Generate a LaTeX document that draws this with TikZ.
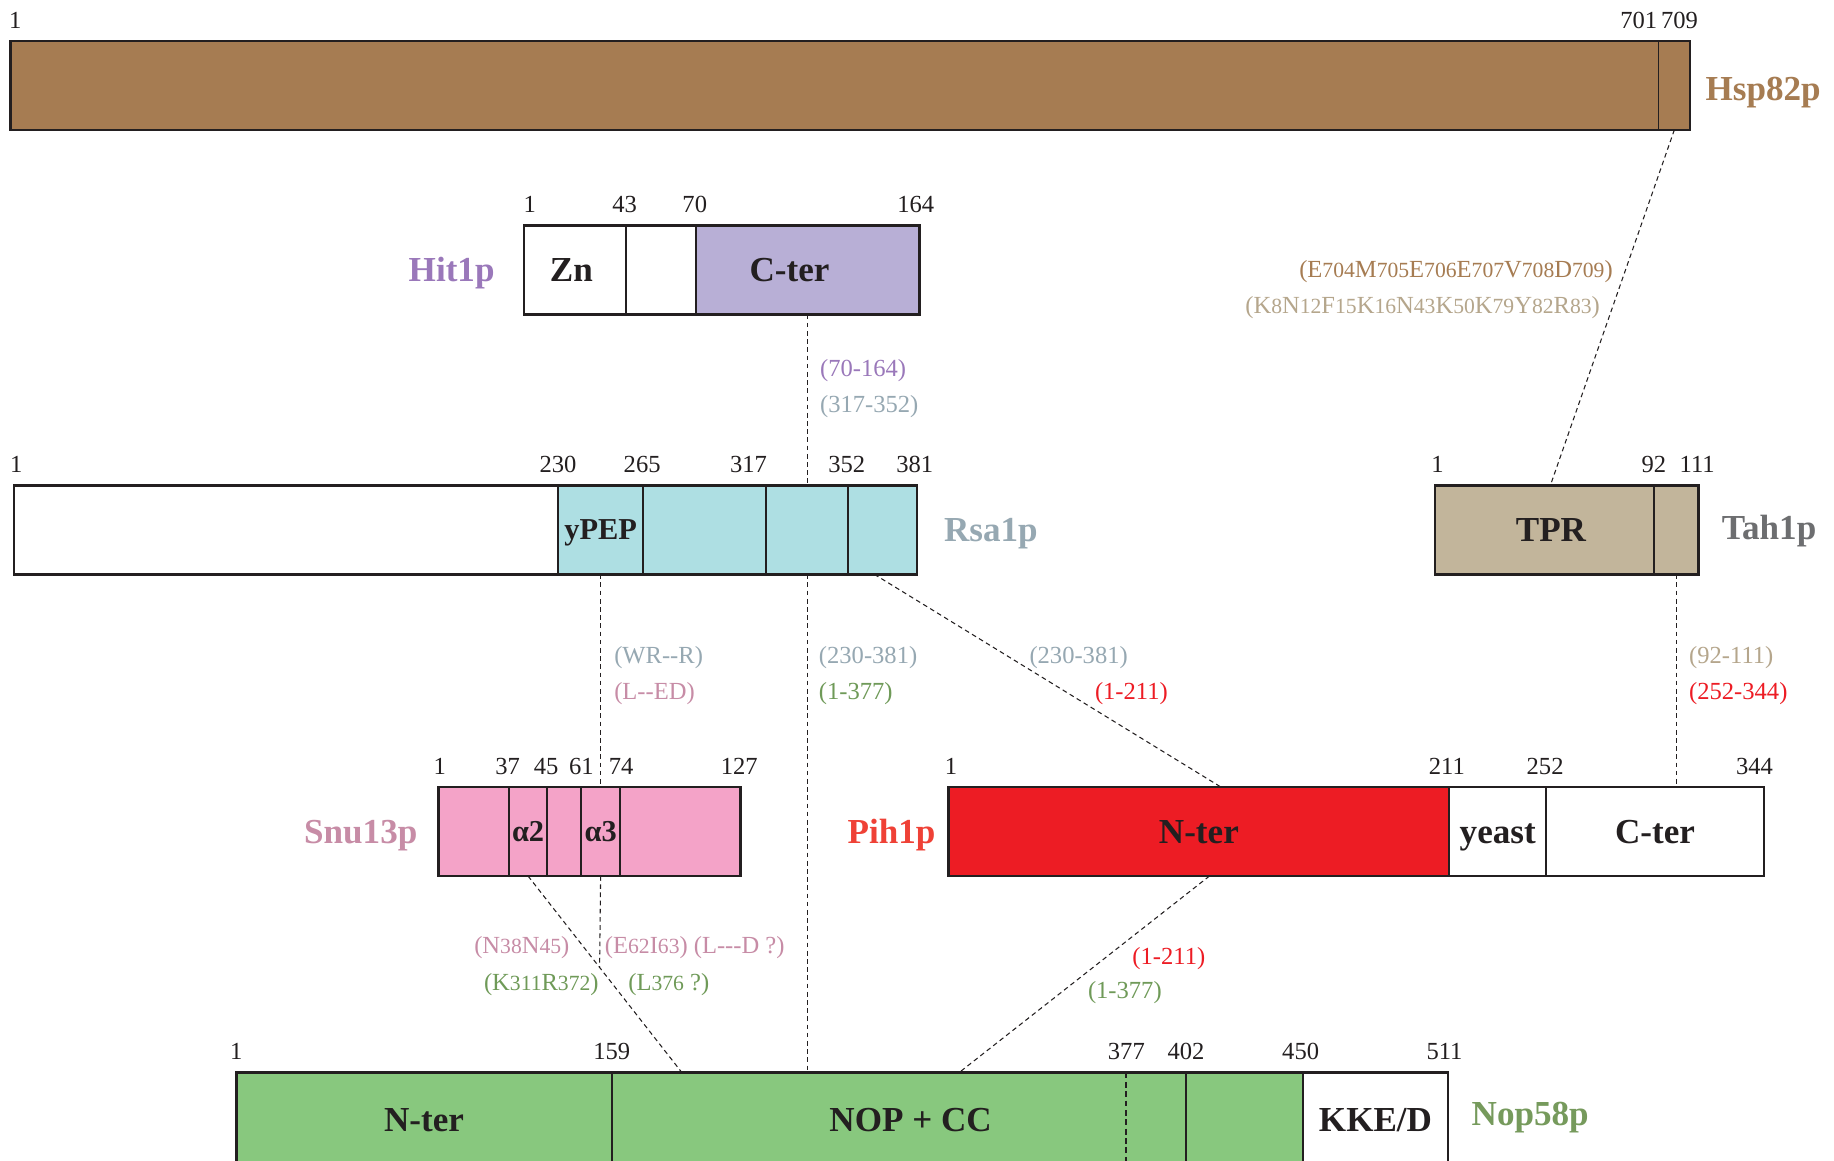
\documentclass[tikz,border=0pt]{standalone}
\usepackage{fontspec}
\setmainfont{Liberation Serif}
\usetikzlibrary{calc}
\definecolor{hspC}{HTML}{A67C52}
\definecolor{hitC}{HTML}{B8AFD6}
\definecolor{hitL}{HTML}{9A78BA}
\definecolor{rsaC}{HTML}{AEDFE3}
\definecolor{rsaL}{HTML}{96A8B2}
\definecolor{tahC}{HTML}{C2B59B}
\definecolor{tahL}{HTML}{6D6E70}
\definecolor{snuC}{HTML}{F4A3C8}
\definecolor{snuL}{HTML}{C78CA6}
\definecolor{pihC}{HTML}{ED1C24}
\definecolor{pihL}{HTML}{EF4136}
\definecolor{nopC}{HTML}{88C87E}
\definecolor{nopL}{HTML}{769A5C}
\definecolor{tanL}{HTML}{B5A68C}
\definecolor{redL}{HTML}{ED1C24}
\definecolor{grnL}{HTML}{6F9A58}
\definecolor{txt}{HTML}{231F20}
\newcommand{\sd}[1]{{\fontsize{18.5}{18.5}\selectfont #1}}
\newcommand{\hh}{-\kern0pt}
\newcommand{\cellbox}[6]{\node[cell, fill=#5, minimum width={(#3-#2)*1pt}] (#1) at (#2,#4) {#6};}
\begin{document}
\begin{tikzpicture}[x=1pt,y=-1pt,
  cell/.style={draw=txt, line width=1.7pt, inner sep=0pt, outer sep=0pt, anchor=north west,
    minimum height=76pt, font=\fontsize{30}{30}\selectfont\bfseries, text=txt,
    text height=20pt, text depth=0pt},
  smallcell/.style={font=\fontsize{26}{26}\selectfont\bfseries, text height=17pt},
  num/.style={anchor=base, font=\fontsize{21}{21}\selectfont, text=txt, inner sep=0pt},
  pname/.style={font=\fontsize{30}{30}\selectfont\bfseries, inner sep=0pt},
  ilab/.style={font=\fontsize{21}{21}\selectfont, inner sep=0pt, anchor=base west},
  ilabr/.style={font=\fontsize{21}{21}\selectfont, inner sep=0pt, anchor=base east},
  link/.style={draw=txt, line width=0.9pt, dash pattern=on 4pt off 3pt},
  outline/.style={draw=txt, line width=2.2pt}]
\useasboundingbox[fill=white] (0,0) rectangle (1568,992);

% ---------- Hsp82p ----------
\cellbox{hsp1}{9}{1418}{35}{hspC}{}
\node[cell, fill=hspC, line width=1.2pt, minimum width=27pt] (hsp2) at (1418,35) {};
\draw[outline] (hsp1.north west) rectangle (hsp2.south east);
\node[num] (hn1) at (13,24) {1};
\node[num, anchor=base east] (hn2) at (1417,24) {701};
\node[num, anchor=base west] (hn3) at (1420,24) {709};
\node[pname, text=hspC, anchor=base west] (hspN) at (1458,86) {Hsp82p};

% ---------- Hit1p ----------
\cellbox{hitA}{448}{535}{193}{white}{Zn\hspace*{6pt}}
\cellbox{hitB}{535}{595}{193}{white}{}
\cellbox{hitC}{595}{786}{193}{hitC}{C-ter\hspace*{31pt}}
\draw[outline] (hitA.north west) rectangle (hitC.south east);
\node[num] (in1) at (453,182) {1};
\node[num] (in2) at (534,182) {43};
\node[num] (in3) at (594,182) {70};
\node[num] (in4) at (783,182) {164};
\node[pname, text=hitL, anchor=base east] (hitN) at (423,241) {Hit1p};

% ---------- Rsa1p ----------
\cellbox{rsa1}{12}{477}{415}{white}{}
\node[cell, smallcell, fill=rsaC, minimum width=73pt] (ypep) at (477,415) {yPEP};
\cellbox{rsa3}{550}{655}{415}{rsaC}{}
\cellbox{rsa4}{655}{725}{415}{rsaC}{}
\cellbox{rsa5}{725}{784}{415}{rsaC}{}
\draw[outline] (rsa1.north west) rectangle (rsa5.south east);
\node[num] (rn1) at (14,404) {1};
\node[num] (rn2) at (477,404) {230};
\node[num] (rn3) at (549,404) {265};
\node[num] (rn4) at (640,404) {317};
\node[num] (rn5) at (724,404) {352};
\node[num] (rn6) at (782,404) {381};
\node[pname, text=rsaL, anchor=base west] (rsaN) at (807,463) {Rsa1p};

% ---------- Tah1p ----------
\cellbox{tpr}{1227}{1414}{415}{tahC}{\hspace*{11pt}TPR}
\cellbox{tah2}{1414}{1452}{415}{tahC}{}
\draw[outline] (tpr.north west) rectangle (tah2.south east);
\node[num] (tn1) at (1229,404) {1};
\node[num] (tn2) at (1414,404) {92};
\node[num] (tn3) at (1451,404) {111};
\node[pname, text=tahL, anchor=base west] (tahN) at (1472,461) {Tah1p};

% ---------- Snu13p ----------
\cellbox{snu1}{375}{435}{673}{snuC}{}
\node[cell, smallcell, fill=snuC, minimum width=33pt] (a2) at (435,673) {α2};
\cellbox{snu3}{468}{497}{673}{snuC}{}
\node[cell, smallcell, fill=snuC, minimum width=33pt] (a3) at (497,673) {α3};
\cellbox{snu5}{530}{633}{673}{snuC}{}
\draw[outline] (snu1.north west) rectangle (snu5.south east);
\node[num] (sn1) at (376,662) {1};
\node[num] (sn2) at (434,662) {37};
\node[num] (sn3) at (467,662) {45};
\node[num] (sn4) at (497,662) {61};
\node[num] (sn5) at (531,662) {74};
\node[num] (sn6) at (632,662) {127};
\node[pname, text=snuL, anchor=base east] (snuN) at (357,721) {Snu13p};

% ---------- Pih1p ----------
\cellbox{pihN}{811}{1239}{673}{pihC}{N-ter}
\cellbox{pihY}{1239}{1322}{673}{white}{yeast}
\cellbox{pihC}{1322}{1508}{673}{white}{C-ter}
\draw[outline] (pihN.north west) rectangle (pihC.south east);
\node[num] (pn1) at (813,662) {1};
\node[num] (pn2) at (1237,662) {211};
\node[num] (pn3) at (1321,662) {252};
\node[num] (pn4) at (1500,662) {344};
\node[pname, text=pihL, anchor=base east] (pihName) at (800,721) {Pih1p};

% ---------- Nop58p ----------
\node[cell, fill=nopC, minimum width=321pt, minimum height=80pt] (nopA) at (202,917) {N-ter};
\node[cell, fill=nopC, minimum width=491pt, minimum height=80pt] (nopB) at (523,917) {\hspace*{20pt}NOP + CC};
\node[cell, fill=nopC, minimum width=100pt, minimum height=80pt] (nopC) at (1014,917) {};
\node[cell, fill=white, minimum width=124pt, minimum height=80pt] (nopD) at (1114,917) {KKE/D};
\draw[outline] (nopA.north west) rectangle (nopD.south east);
\coordinate (d377) at ($(nopB.north west)+(440,0)$);
\draw[txt, line width=1.7pt, dash pattern=on 5pt off 3pt] (d377) -- ++(0,80);
\node[num] (nn1) at (202,906) {1};
\node[num] (nn2) at (523,906) {159};
\node[num] (nn3) at (963,906) {377};
\node[num] (nn4) at (1014,906) {402};
\node[num] (nn5) at (1112,906) {450};
\node[num] (nn6) at (1235,906) {511};
\node[pname, text=nopL, anchor=base west] (nopName) at (1258,962) {Nop58p};

% ---------- connectors ----------
\draw[link] (hsp2.south) -- ([xshift=5pt]tpr.north);
\draw[link] (hitC.south) -- (hitC.south |- rsa4.north);
\draw[link] (rsa4.south) -- (rsa4.south |- nopB.north);
\draw[link] (ypep.south) -- (ypep.south |- a3.north);
\draw[link] ([xshift=-7pt]rsa5.south) -- ([xshift=19pt]pihN.north);
\draw[link] (tah2.south) -- (tah2.south |- pihC.north);
\coordinate (j1) at ($(nopB.north west)+(60,0)$);
\coordinate (j2) at ($(nopB.north west)+(297,0)$);
\draw[link] (a2.south) -- (j1);
\coordinate (meet) at ($(a2.south)!0.465!(j1)$);
\draw[link] (a3.south) -- (meet);
\draw[link] ([xshift=9pt]pihN.south) -- (j2);

% ---------- interaction labels ----------
\node[ilab, text=hitL] (l1) at (701,322) {(70-164)};
\node[ilab, text=rsaL] (l2) at (701,353) {(317-352)};
\node[ilabr, text=hspC] (l3) at (1379,237) {(E\sd{704}M\sd{705}E\sd{706}E\sd{707}V\sd{708}D\sd{709})};
\node[ilabr, text=tanL] (l4) at (1368,268) {(K\sd{8}N\sd{12}F\sd{15}K\sd{16}N\sd{43}K\sd{50}K\sd{79}Y\sd{82}R\sd{83})};
\node[ilab, text=rsaL] (l5) at (525,567) {(WR\hh\hh R)};
\node[ilab, text=snuL] (l6) at (525,598) {(L\hh\hh ED)};
\node[ilab, text=rsaL] (l7) at (700,567) {(230-381)};
\node[ilab, text=grnL] (l8) at (700,598) {(1-377)};
\node[ilab, text=rsaL] (l9) at (880,567) {(230-381)};
\node[ilab, text=redL] (l10) at (936,598) {(1-211)};
\node[ilab, text=tanL] (l11) at (1444,567) {(92-111)};
\node[ilab, text=redL] (l12) at (1444,598) {(252-344)};
\node[ilabr, text=snuL] (l13) at (487,815) {(N\sd{38}N\sd{45})};
\node[ilabr, text=grnL] (l14) at (512,847) {(K\sd{311}R\sd{372})};
\node[ilab, text=snuL] (l15) at (517,815) {(E\sd{62}I\sd{63}) (L\hh\hh\hh D ?)};
\node[ilab, text=grnL] (l16) at (537,847) {(L\sd{376} ?)};
\node[ilab, text=redL] (l17) at (968,825) {(1-211)};
\node[ilab, text=grnL] (l18) at (930,854) {(1-377)};
\end{tikzpicture}
\end{document}
